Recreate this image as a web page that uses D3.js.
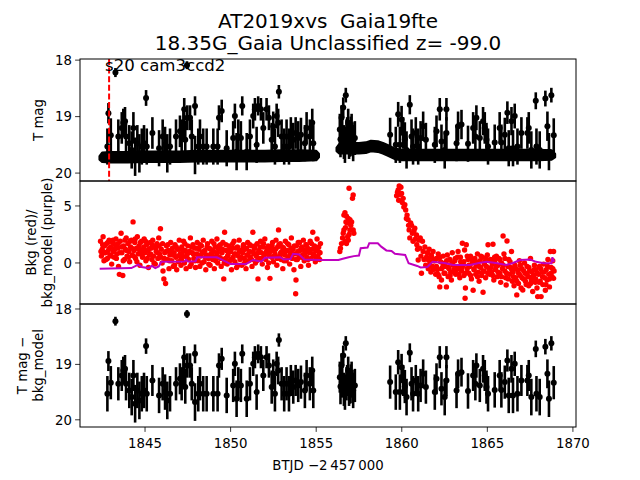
<!DOCTYPE html>
<html><head><meta charset="utf-8">
<script src="https://cdn.jsdelivr.net/npm/d3@7"></script>
<style>body{margin:0;background:#fff}text{font-family:"DejaVu Sans",sans-serif;fill:#000}</style>
</head><body><svg id="c" width="640" height="480"></svg>
<script>
// ---------------- data ----------------
const titleLines = ["AT2019xvs  Gaia19fte", "18.35G_Gaia Unclassified z= -99.0"];
const sectorLabel = "s20 cam3ccd2";
const xLabel = "BTJD \u22122\u2009457\u2009000";
const yLabel1 = ["T mag"];
const yLabel2 = ["Bkg (red)/", "bkg_model (purple)"];
const yLabel3 = ["T mag \u2212", "bkg_model"];
const xTicks = [1845, 1850, 1855, 1860, 1865, 1870];
const yTicks1 = [18, 19, 20];
const yTicks2 = [0, 5];
const yTicks3 = [18, 19, 20];
const markerTime = 1842.9;

// dense baseline of the light curve (t, mag, half-width)
const band1 = [[1842.35,19.73,0.03],[1842.5,19.72,0.08],[1843,19.72,0.09],[1844,19.72,0.09],[1845,19.71,0.09],[1846,19.71,0.09],[1847,19.71,0.09],[1848,19.70,0.09],[1849,19.70,0.09],[1850,19.70,0.09],[1851,19.70,0.09],[1852,19.70,0.09],[1853,19.69,0.09],[1854,19.69,0.09],[1855.0,19.69,0.08],[1855.15,19.69,0.03]];
const band2 = [[1856.2,19.58,0.03],[1856.35,19.57,0.08],[1857,19.56,0.09],[1857.5,19.56,0.09],[1857.9,19.55,0.09],[1858.2,19.52,0.09],[1858.6,19.53,0.09],[1858.9,19.56,0.09],[1859.2,19.6,0.09],[1859.6,19.66,0.09],[1860,19.68,0.09],[1861,19.68,0.09],[1862,19.68,0.09],[1863,19.68,0.09],[1864,19.68,0.09],[1865,19.68,0.09],[1866,19.68,0.09],[1867,19.68,0.09],[1868,19.68,0.09],[1868.75,19.68,0.08],[1868.95,19.69,0.03]];

// detections (t, mag, err)
const detections = [
[1842.80,19.53,0.32],[1842.86,18.94,0.18],[1843.00,19.33,0.3],[1843.27,18.22,0.08],[1843.44,19.35,0.3],[1843.64,19.20,0.28],[1843.73,19.11,0.25],[1843.83,19.08,0.25],[1843.89,19.35,0.3],[1844.08,19.47,0.32],[1844.22,19.59,0.33],[1844.32,19.20,0.28],[1844.42,19.71,0.34],[1844.55,19.47,0.32],[1844.67,19.65,0.34],[1844.81,19.53,0.32],[1844.94,19.47,0.32],[1845.06,18.67,0.14],[1845.10,19.53,0.32],[1845.43,19.29,0.28],[1845.82,19.56,0.32],[1846.03,19.35,0.3],[1846.17,19.50,0.32],[1846.30,19.65,0.34],[1846.46,19.53,0.32],[1846.81,19.35,0.3],[1847.04,19.26,0.28],[1847.14,19.35,0.3],[1847.24,19.11,0.25],[1847.29,18.87,0.2],[1847.35,19.41,0.3],[1847.45,18.09,0.07],[1847.47,19.02,0.22],[1847.63,19.02,0.22],[1847.73,19.35,0.3],[1847.92,18.81,0.17],[1847.92,19.68,0.34],[1848.11,19.53,0.32],[1848.21,19.35,0.3],[1848.40,19.53,0.32],[1848.60,19.53,0.32],[1848.99,19.53,0.32],[1849.24,19.53,0.32],[1849.32,19.02,0.22],[1849.48,18.90,0.2],[1849.77,19.56,0.32],[1850.15,19.38,0.3],[1850.25,18.99,0.22],[1850.35,19.62,0.33],[1850.45,19.35,0.3],[1850.60,19.38,0.3],[1850.68,18.81,0.17],[1850.94,19.62,0.33],[1851.13,19.35,0.3],[1851.32,18.99,0.22],[1851.42,18.87,0.2],[1851.52,19.50,0.32],[1851.61,18.81,0.17],[1851.77,18.87,0.2],[1851.91,19.20,0.28],[1852.10,18.87,0.2],[1852.24,19.02,0.22],[1852.40,19.41,0.3],[1852.49,19.17,0.26],[1852.59,19.53,0.32],[1852.69,18.99,0.22],[1852.78,19.11,0.25],[1852.82,18.56,0.12],[1852.98,19.35,0.3],[1853.13,19.53,0.32],[1853.27,19.35,0.3],[1853.41,19.53,0.32],[1853.52,19.29,0.28],[1853.66,19.41,0.3],[1853.80,19.29,0.28],[1853.95,19.38,0.3],[1854.11,19.32,0.3],[1854.34,19.47,0.32],[1854.44,19.20,0.28],[1854.63,19.35,0.3],[1854.77,19.11,0.25],[1854.83,19.47,0.32],
[1856.38,19.23,0.28],[1856.42,19.40,0.32],[1856.48,19.02,0.22],[1856.52,19.30,0.3],[1856.58,18.84,0.18],[1856.62,19.45,0.3],[1856.68,19.50,0.32],[1856.73,18.62,0.13],[1856.77,19.35,0.3],[1856.81,19.29,0.28],[1856.87,19.11,0.25],[1856.92,19.45,0.3],[1856.97,19.41,0.3],[1857.02,19.30,0.3],[1857.07,19.23,0.28],[1857.12,19.40,0.3],[1857.16,19.47,0.32],[1857.26,19.38,0.3],
[1859.32,19.32,0.3],[1859.65,19.50,0.32],[1859.79,18.96,0.22],[1859.89,19.50,0.32],[1859.99,19.05,0.24],[1860.08,19.29,0.28],[1860.18,19.40,0.3],[1860.28,19.59,0.33],[1860.47,18.79,0.17],[1860.57,19.35,0.3],[1860.66,19.53,0.32],[1860.82,19.29,0.28],[1860.96,19.53,0.32],[1861.10,19.38,0.3],[1861.25,19.17,0.26],[1861.41,19.41,0.3],[1861.93,19.50,0.32],[1862.03,19.26,0.28],[1862.22,18.87,0.2],[1862.32,19.44,0.3],[1862.51,19.59,0.33],[1862.61,18.87,0.2],[1862.61,19.29,0.28],[1863.20,19.47,0.32],[1863.29,19.17,0.26],[1863.49,19.14,0.26],[1863.87,19.48,0.32],[1864.17,19.20,0.28],[1864.30,19.35,0.3],[1864.36,19.02,0.22],[1864.56,19.38,0.3],[1864.75,19.08,0.25],[1864.85,19.20,0.28],[1864.95,19.41,0.3],[1865.04,19.53,0.32],[1865.43,19.46,0.32],[1865.72,19.20,0.28],[1865.82,19.46,0.32],[1866.02,19.32,0.3],[1866.17,18.93,0.2],[1866.25,19.56,0.32],[1866.41,19.08,0.25],[1866.50,19.56,0.32],[1866.60,18.99,0.22],[1866.76,19.53,0.32],[1866.99,19.29,0.28],[1867.34,19.29,0.28],[1867.42,19.20,0.28],[1867.57,19.59,0.33],[1867.83,18.72,0.15],[1867.87,19.53,0.32],[1868.06,19.59,0.33],[1868.39,18.68,0.14],[1868.51,19.17,0.26],[1868.60,19.62,0.33],[1868.74,18.62,0.13],[1868.88,19.33,0.3]
];

// background flux (t, value)
const bkg = [
[1842.40,1.9],[1842.45,0.6],[1842.50,1.2],[1842.55,2.3],[1842.60,0.2],[1842.65,1.5],[1842.70,0.9],[1842.75,1.7],[1842.80,0.4],[1842.85,1.1],[1842.90,2.0],[1842.95,0.7],[1843.00,1.4],[1843.05,-0.1],[1843.10,1.8],[1843.15,1.0],[1843.20,0.5],[1843.25,1.6],[1843.30,2.1],[1843.35,0.8],[1843.40,1.3],[1843.45,-0.3],[1843.50,-1.0],[1843.55,1.9],[1843.60,2.6],[1843.65,0.9],[1843.70,-1.1],[1843.75,1.5],[1843.80,0.3],[1843.85,1.2],[1843.90,2.2],[1843.95,0.6],[1844.00,1.7],[1844.05,1.0],[1844.10,0.1],[1844.15,1.4],[1844.20,2.0],[1844.25,0.7],[1844.30,3.6],[1844.35,1.1],[1844.40,1.8],[1844.45,0.4],[1844.50,1.3],[1844.55,2.3],[1844.60,0.8],[1844.65,1.5],[1844.70,-0.2],[1844.75,1.0],[1844.80,1.9],[1844.85,0.5],[1844.90,1.2],[1844.95,2.1],[1845.00,0.9],[1845.05,0.2],[1845.10,1.6],[1845.15,1.1],[1845.20,-0.4],[1845.25,0.7],[1845.30,1.8],[1845.35,1.3],[1845.40,0.3],[1845.45,2.0],[1845.50,0.6],[1845.55,1.4],[1845.60,-0.1],[1845.65,1.0],[1845.70,1.7],[1845.75,0.4],[1845.80,2.2],[1845.85,0.8],[1845.90,3.0],[1845.95,1.2],[1846.00,0.0],[1846.05,-0.7],[1846.10,-1.4],[1846.15,0.9],[1846.20,-1.8],[1846.25,1.5],[1846.30,0.3],[1846.35,1.1],[1846.40,-0.5],[1846.45,0.7],[1846.50,1.8],[1846.55,0.2],[1846.60,1.3],[1846.65,-0.3],[1846.70,0.9],[1846.75,1.6],[1846.80,0.5],[1846.85,-0.6],[1846.90,1.2],[1846.95,0.1],[1847.00,2.0],[1847.05,0.8],[1847.10,-0.2],[1847.15,1.4],[1847.20,0.6],[1847.25,1.9],[1847.30,0.0],[1847.35,1.1],[1847.40,-0.5],[1847.45,0.7],[1847.50,1.5],[1847.55,0.3],[1847.60,1.0],[1847.65,2.2],[1847.70,-0.1],[1847.75,0.9],[1847.80,1.6],[1847.85,0.4],[1847.90,1.3],[1847.95,-0.4],[1848.00,0.8],[1848.05,1.8],[1848.10,0.2],[1848.15,1.2],[1848.20,-0.3],[1848.25,0.6],[1848.30,1.5],[1848.35,0.9],[1848.40,2.0],[1848.45,0.1],[1848.50,1.1],[1848.55,-0.6],[1848.60,0.7],[1848.65,1.7],[1848.70,0.4],[1848.75,1.3],[1848.80,-0.2],[1848.85,0.8],[1848.90,1.9],[1848.95,0.3],[1849.00,1.0],[1849.05,-0.5],[1849.10,1.4],[1849.15,0.6],[1849.20,2.1],[1849.25,0.0],[1849.30,1.2],[1849.35,0.5],[1849.40,1.6],[1849.45,-0.3],[1849.50,0.9],[1849.55,1.8],[1849.60,-1.4],[1849.65,2.7],[1849.70,0.4],[1849.75,1.1],[1849.80,-0.1],[1849.85,0.7],[1849.90,1.5],[1849.95,0.2],[1850.00,1.0],[1850.05,-0.6],[1850.10,1.3],[1850.15,0.5],[1850.20,1.9],[1850.25,0.1],[1850.30,0.8],[1850.35,-0.4],[1850.40,1.4],[1850.45,0.6],[1850.50,2.0],[1850.55,0.3],[1850.60,1.1],[1850.65,-0.2],[1850.70,0.9],[1850.75,1.6],[1850.80,0.4],[1850.85,1.2],[1850.90,-0.5],[1850.95,0.7],[1851.00,1.8],[1851.05,0.2],[1851.10,1.0],[1851.15,0.5],[1851.20,1.5],[1851.25,-0.3],[1851.30,2.7],[1851.35,0.8],[1851.40,1.3],[1851.45,0.0],[1851.50,0.6],[1851.55,1.7],[1851.60,-1.4],[1851.65,1.1],[1851.70,0.4],[1851.75,1.9],[1851.80,0.9],[1851.85,-0.1],[1851.90,1.4],[1851.95,0.6],[1852.00,2.1],[1852.05,0.3],[1852.10,1.0],[1852.15,-0.4],[1852.20,1.5],[1852.25,0.7],[1852.30,-1.35],[1852.35,1.2],[1852.40,0.5],[1852.45,1.8],[1852.50,0.1],[1852.55,1.1],[1852.60,0.8],[1852.65,2.0],[1852.70,-0.2],[1852.75,1.4],[1852.80,2.9],[1852.85,0.6],[1852.90,1.7],[1852.95,0.3],[1853.00,1.0],[1853.05,-0.5],[1853.10,1.3],[1853.15,0.7],[1853.20,1.9],[1853.25,0.2],[1853.30,1.1],[1853.35,0.5],[1853.40,1.6],[1853.45,-0.1],[1853.50,0.9],[1853.55,2.2],[1853.60,0.4],[1853.65,1.2],[1853.70,-0.6],[1853.75,0.8],[1853.80,-2.7],[1853.82,-1.5],[1853.85,1.5],[1853.90,0.3],[1853.95,1.8],[1854.00,0.6],[1854.05,1.1],[1854.10,-0.3],[1854.15,1.4],[1854.20,0.7],[1854.25,2.0],[1854.30,0.2],[1854.35,1.0],[1854.40,1.6],[1854.45,0.5],[1854.50,1.3],[1854.55,-0.2],[1854.60,0.9],[1854.65,1.9],[1854.70,0.4],[1854.75,1.2],[1854.80,2.7],[1854.85,0.8],[1854.90,1.5],[1854.95,0.1],[1855.00,1.1],[1855.05,2.1],[1855.10,0.6],[1855.15,1.4],[1855.20,0.3],[1855.25,1.7],
[1856.38,1.0],[1856.42,1.3],[1856.48,1.7],[1856.54,2.2],[1856.58,2.6],[1856.62,2.9],[1856.68,1.9],[1856.77,1.7],[1856.87,2.0],[1856.97,2.9],[1857.07,2.9],[1857.16,2.9],[1856.92,2.5],[1856.62,4.2],[1856.68,4.4],[1856.77,4.1],[1856.87,3.9],[1856.97,3.8],[1857.07,3.6],[1856.74,3.6],[1856.81,3.5],[1856.92,6.55],[1857.16,5.96],[1857.12,5.67],[1856.71,3.1],[1856.84,2.3],[1857.02,3.3],[1857.20,2.6],
[1859.70,5.9],[1859.75,6.2],[1859.79,6.4],[1859.82,5.5],[1859.85,6.75],[1859.90,6.0],[1859.95,6.64],[1859.99,6.1],[1860.03,5.3],[1860.08,5.67],[1860.12,4.9],[1860.18,5.1],[1860.23,4.65],[1860.27,3.9],[1860.31,4.2],[1860.37,3.8],[1860.40,3.3],[1860.43,2.9],[1860.47,2.2],[1860.52,3.5],[1860.57,3.3],[1860.62,2.6],[1860.66,1.9],[1860.71,2.8],[1860.76,3.05],[1860.80,2.1],[1860.86,2.45],[1860.88,1.6],[1860.92,1.2],[1860.96,0.26],[1861.00,2.0],[1861.05,1.3],[1861.08,2.2],[1861.12,0.6],[1861.15,-0.9],[1861.21,1.9],[1861.25,1.0],[1861.30,0.3],[1861.35,1.4],[1861.40,-0.2],[1861.45,0.55],[1861.50,0.9],[1861.55,-0.5],[1861.60,1.2],[1861.64,0.1],[1861.70,-0.8],[1861.75,0.5],[1861.80,-0.3],[1861.83,1.0],[1861.88,0.2],[1861.93,-0.47],[1861.98,-1.0],[1862.03,0.4],[1862.08,-0.6],[1862.13,0.8],[1862.18,-1.2],[1862.22,-2.1],[1862.27,0.1],[1862.32,-1.5],[1862.37,-0.4],[1862.42,0.6],[1862.47,-0.9],[1862.52,0.0],[1862.56,-0.3],[1862.61,-2.1],[1862.66,0.7],[1862.71,-1.2],[1862.76,-0.5],[1862.81,0.3],[1862.86,-0.8],[1862.90,-1.5],[1862.95,0.9],[1863.00,-0.2],[1863.05,-0.6],[1863.10,0.2],[1863.15,-1.0],[1863.20,-0.6],[1863.25,0.5],[1863.29,1.0],[1863.34,-0.4],[1863.39,-1.3],[1863.44,0.1],[1863.49,-0.7],[1863.54,1.73],[1863.59,-0.2],[1863.63,-1.1],[1863.67,1.14],[1863.70,-3.1],[1863.72,-2.2],[1863.77,1.6],[1863.82,-0.5],[1863.87,0.3],[1863.92,-0.9],[1863.97,-0.3],[1864.02,0.6],[1864.07,-1.4],[1864.12,0.0],[1864.17,-2.4],[1864.22,-0.6],[1864.27,0.4],[1864.32,-1.0],[1864.37,-0.2],[1864.42,0.8],[1864.47,-0.8],[1864.52,-1.6],[1864.57,0.2],[1864.62,-0.4],[1864.67,-1.1],[1864.72,0.5],[1864.75,-2.57],[1864.80,-0.7],[1864.85,0.1],[1864.90,-1.3],[1864.95,-0.3],[1865.00,0.7],[1865.04,1.6],[1865.09,-0.5],[1865.14,-1.0],[1865.19,0.3],[1865.24,-0.8],[1865.29,-0.1],[1865.33,1.64],[1865.38,-1.5],[1865.43,0.2],[1865.48,-0.6],[1865.53,0.6],[1865.58,-1.2],[1865.63,-0.2],[1865.68,0.4],[1865.73,-0.9],[1865.78,-1.7],[1865.83,0.0],[1865.88,-0.5],[1865.92,2.37],[1865.97,0.8],[1866.02,-0.7],[1866.07,-1.3],[1866.10,-1.93],[1866.15,1.93],[1866.20,-0.3],[1866.25,0.3],[1866.30,-1.0],[1866.35,-0.4],[1866.41,1.0],[1866.46,-1.6],[1866.51,-0.8],[1866.56,-2.0],[1866.61,-0.2],[1866.66,-1.3],[1866.72,-2.8],[1866.77,-0.6],[1866.82,-1.8],[1866.87,0.2],[1866.92,-1.1],[1866.97,-2.2],[1867.02,-0.5],[1867.07,-2.37],[1867.12,-1.4],[1867.17,0.0],[1867.22,-0.9],[1867.27,-1.9],[1867.32,-0.3],[1867.37,-1.2],[1867.42,-2.0],[1867.47,-0.7],[1867.52,0.4],[1867.57,-1.5],[1867.62,-0.8],[1867.65,-2.5],[1867.70,-1.1],[1867.75,-0.2],[1867.80,-1.7],[1867.85,-0.6],[1867.90,-2.2],[1867.94,-2.95],[1867.99,-1.0],[1868.04,-0.3],[1868.09,-1.6],[1868.14,-2.95],[1868.19,-0.8],[1868.24,-1.9],[1868.29,-0.1],[1868.34,-1.3],[1868.39,-2.4],[1868.44,-0.6],[1868.49,-1.5],[1868.54,0.3],[1868.59,-1.0],[1868.63,-2.1],[1868.68,1.0],[1868.73,-0.4],[1868.78,-1.2],[1868.82,0.2],[1868.87,1.0],[1868.87,-1.35],[1868.90,-0.7]
];
// more background cadences filling the cloud (t, value)
const bkgMore = [
[1842.425,1.0],[1842.525,1.6],[1842.625,0.9],[1842.725,0.3],[1842.825,1.8],[1842.925,1.3],[1843.025,0.6],[1843.125,2.0],[1843.225,1.2],[1843.325,0.4],[1843.425,1.7],[1843.525,0.9],[1843.625,1.4],[1843.725,0.2],[1843.825,2.0],[1843.925,1.1],[1844.025,0.5],[1844.125,1.9],[1844.225,1.3],[1844.325,0.6],[1844.425,2.1],[1844.525,0.1],[1844.625,1.2],[1844.725,1.8],[1844.825,0.7],[1844.925,1.4],[1845.025,1.9],[1845.125,0.4],[1845.225,1.2],[1845.325,0.8],[1845.425,1.6],[1845.525,0.0],[1845.625,1.3],[1845.725,0.9],[1845.825,1.5],[1845.925,0.5],[1846.025,1.7],[1846.125,0.4],[1846.225,1.0],[1846.325,1.6],[1846.425,0.2],[1846.525,1.1],[1846.625,0.7],[1846.725,-0.2],[1846.825,1.4],[1846.925,0.6],[1847.025,1.2],[1847.125,0.3],[1847.225,1.0],[1847.325,1.7],[1847.425,0.5],[1847.525,0.9],[1847.625,-0.3],[1847.725,1.4],[1847.825,0.8],[1847.925,0.2],[1848.025,1.3],[1848.125,0.7],[1848.225,1.6],[1848.325,0.0],[1848.425,1.0],[1848.525,0.5],[1848.625,1.4],[1848.725,-0.1],[1848.825,1.2],[1848.925,0.6],[1849.025,1.7],[1849.125,0.2],[1849.225,0.9],[1849.325,1.5],[1849.425,0.4],[1849.525,1.2],[1849.625,0.0],[1849.725,1.6],[1849.825,0.6],[1849.925,1.1],[1850.025,0.3],[1850.125,1.7],[1850.225,0.8],[1850.325,1.3],[1850.425,-0.2],[1850.525,1.0],[1850.625,0.5],[1850.725,1.4],[1850.825,0.0],[1850.925,1.3],[1851.025,0.7],[1851.125,1.6],[1851.225,0.3],[1851.325,1.0],[1851.425,1.5],[1851.525,0.2],[1851.625,0.9],[1851.725,1.4],[1851.825,0.4],[1851.925,1.7],[1852.025,0.8],[1852.125,1.3],[1852.225,0.0],[1852.325,1.0],[1852.425,1.5],[1852.525,0.6],[1852.625,1.2],[1852.725,0.4],[1852.825,1.6],[1852.925,0.9],[1853.025,1.4],[1853.125,0.2],[1853.225,1.0],[1853.325,1.7],[1853.425,0.6],[1853.525,1.3],[1853.625,0.8],[1853.725,1.5],[1853.825,0.3],[1853.925,1.0],[1854.025,1.8],[1854.125,0.5],[1854.225,1.2],[1854.325,0.8],[1854.425,1.6],[1854.525,0.3],[1854.625,1.1],[1854.725,1.7],[1854.825,0.6],[1854.925,1.2],[1855.025,0.4],[1855.125,1.0],[1855.225,0.9],
[1861.525,0.3],[1861.625,-0.2],[1861.725,0.7],[1861.825,-0.6],[1861.925,0.2],[1862.025,-0.3],[1862.125,-1.0],[1862.225,0.5],[1862.325,-0.5],[1862.425,-0.1],[1862.525,-0.9],[1862.625,0.2],[1862.725,-0.4],[1862.825,-1.1],[1862.925,0.0],[1863.025,-0.8],[1863.125,0.4],[1863.225,-0.3],[1863.325,-1.0],[1863.425,0.5],[1863.525,-0.4],[1863.625,0.1],[1863.725,-0.9],[1863.825,0.6],[1863.925,-0.2],[1864.025,-1.1],[1864.125,0.3],[1864.225,-0.5],[1864.325,0.1],[1864.425,-1.2],[1864.525,-0.3],[1864.625,0.6],[1864.725,-0.8],[1864.825,-0.1],[1864.925,0.4],[1865.025,-0.9],[1865.125,0.2],[1865.225,-0.4],[1865.325,-1.1],[1865.425,0.5],[1865.525,-0.3],[1865.625,-0.8],[1865.725,0.3],[1865.825,-1.2],[1865.925,-0.2],[1866.025,0.4],[1866.125,-0.9],[1866.225,-1.4],[1866.325,0.1],[1866.425,-0.6],[1866.525,-1.2],[1866.625,-0.4],[1866.725,-1.6],[1866.825,-0.9],[1866.925,-0.2],[1867.025,-1.3],[1867.125,-0.7],[1867.225,-1.6],[1867.325,-1.0],[1867.425,-0.4],[1867.525,-1.8],[1867.625,-1.2],[1867.725,-0.6],[1867.825,-1.4],[1867.925,-0.9],[1868.025,-1.7],[1868.125,-0.5],[1868.225,-1.2],[1868.325,-0.8],[1868.425,-1.9],[1868.525,-0.3],[1868.625,-1.4],[1868.725,-0.9],[1868.825,-0.5]
];

// background model (t, value)
const bkgModel = [
[1842.35,-0.5],[1844.2,-0.45],[1844.4,-0.3],[1844.6,-0.15],[1844.8,-0.35],[1845.2,-0.45],[1845.4,-0.25],[1845.6,-0.45],[1845.8,-0.3],[1845.95,0.1],[1847.3,0.12],[1847.4,0.28],[1847.5,0.12],[1847.95,0.15],[1848.05,0.5],[1849.2,0.5],[1849.6,0.2],[1850.0,-0.1],[1850.9,-0.1],[1851.3,0.26],[1851.8,0.12],[1852.0,0.45],[1852.9,0.5],[1853.1,0.3],[1853.5,0.35],[1853.65,0.8],[1854.0,0.75],[1854.3,0.3],[1855.2,0.26],[1856.3,0.26],[1856.5,0.35],[1856.9,0.5],[1857.2,0.6],[1857.5,0.65],[1857.6,1.3],[1858.0,1.35],[1858.1,1.73],[1858.6,1.73],[1858.8,1.43],[1859.1,1.1],[1859.4,1.05],[1859.6,0.8],[1860.2,0.7],[1860.4,-0.03],[1860.9,-0.26],[1861.1,-0.4],[1861.5,-0.35],[1861.8,0.1],[1862.5,0.0],[1863.0,-0.18],[1864.0,-0.18],[1864.5,0.0],[1864.95,0.1],[1865.5,0.0],[1866.1,-0.18],[1866.5,0.0],[1866.9,0.26],[1867.5,0.3],[1867.85,0.1],[1868.3,-0.03],[1868.75,-0.03],[1868.8,0.5],[1868.9,0.1]
];

// ---------------- layout ----------------
const svg = d3.select("#c");
const L = 80, R = 576;
const x = d3.scaleLinear().domain([1841.2, 1870.18]).range([L, R]);
const panels = [
  {top:59, bot:181, y:d3.scaleLinear().domain([17.98,20.14]).range([59,181]), ticks:yTicks1, label:yLabel1, lab:[43]},
  {top:181, bot:304, y:d3.scaleLinear().domain([-3.6,7.19]).range([304,181]), ticks:yTicks2, label:yLabel2, lab:[36,52]},
  {top:304, bot:427, y:d3.scaleLinear().domain([17.91,20.13]).range([304,427]), ticks:yTicks3, label:yLabel3, lab:[27,43]}
];

const defs = svg.append("defs");
panels.forEach((p,i)=>{
  defs.append("clipPath").attr("id","cp"+i).append("rect")
    .attr("x",L).attr("y",p.top).attr("width",R-L).attr("height",p.bot-p.top);
  p.g = svg.append("g").attr("clip-path",`url(#cp${i})`);
});

function errorbars(g, y, data){
  g.append("g").selectAll("line").data(data).join("line")
    .attr("x1",d=>x(d[0])).attr("x2",d=>x(d[0]))
    .attr("y1",d=>y(d[1]-d[2])).attr("y2",d=>y(d[1]+d[2]))
    .attr("stroke","#000").attr("stroke-width",2.6);
  g.append("g").selectAll("circle").data(data).join("circle")
    .attr("cx",d=>x(d[0])).attr("cy",d=>y(d[1])).attr("r",3).attr("fill","#000");
}

// panel 1
{
  const p = panels[0];
  const area = d3.area().x(d=>x(d[0])).y0(d=>p.y(d[1]-d[2])).y1(d=>p.y(d[1]+d[2]));
  [band1, band2].forEach(b=>{
    p.g.append("path").attr("d",area(b)).attr("fill","#000").attr("stroke","#000").attr("stroke-width",2.5).attr("stroke-linejoin","round");
  });
  errorbars(p.g, p.y, detections);
  svg.append("line").attr("x1",x(markerTime)).attr("x2",x(markerTime))
    .attr("y1",p.top).attr("y2",p.bot).attr("stroke","#ff0000").attr("stroke-width",2)
    .attr("stroke-dasharray","6,2.6");
  svg.append("text").attr("x",105).attr("y",71).attr("font-size",16.6).text(sectorLabel);
}
// panel 2
{
  const p = panels[1];
  p.g.append("g").selectAll("circle").data(bkg.concat(bkgMore)).join("circle")
    .attr("cx",d=>x(d[0])).attr("cy",d=>p.y(d[1])).attr("r",2.7).attr("fill","#ff0000");
  p.g.append("path").attr("d",d3.line().x(d=>x(d[0])).y(d=>p.y(d[1]))(bkgModel))
    .attr("fill","none").attr("stroke","#bf00bf").attr("stroke-width",2);
}
// panel 3
errorbars(panels[2].g, panels[2].y, detections);

// frames, ticks, labels
panels.forEach(p=>{
  svg.append("rect").attr("x",L).attr("y",p.top).attr("width",R-L).attr("height",p.bot-p.top)
    .attr("fill","none").attr("stroke","#000").attr("stroke-width",1);
  p.ticks.forEach(t=>{
    const yy = p.y(t);
    svg.append("line").attr("x1",L-4.9).attr("x2",L).attr("y1",yy).attr("y2",yy).attr("stroke","#000").attr("stroke-width",0.8);
    svg.append("text").attr("x",L-8).attr("y",yy).attr("dy","0.36em").attr("text-anchor","end").attr("font-size",13.3).text(t);
  });
  const cy = (p.top+p.bot)/2;
  p.label.forEach((s,k)=>{
    svg.append("text").attr("transform",`translate(${p.lab[k]},${cy}) rotate(-90)`)
      .attr("text-anchor","middle").attr("font-size",13.3).text(s);
  });
});
const bot = panels[2].bot;
xTicks.forEach(t=>{
  svg.append("line").attr("x1",x(t)).attr("x2",x(t)).attr("y1",bot).attr("y2",bot+4.9).attr("stroke","#000").attr("stroke-width",0.8);
  svg.append("text").attr("x",x(t)).attr("y",bot+21).attr("text-anchor","middle").attr("font-size",13.3).text(t);
});
svg.append("text").attr("x",(L+R)/2).attr("y",470).attr("text-anchor","middle").attr("font-size",13.3).text(xLabel);
titleLines.forEach((s,i)=>{
  svg.append("text").attr("x",(L+R)/2).attr("y",28+i*22).attr("text-anchor","middle")
    .attr("font-size",20).style("white-space","pre").text(s);
});
</script></body></html>
